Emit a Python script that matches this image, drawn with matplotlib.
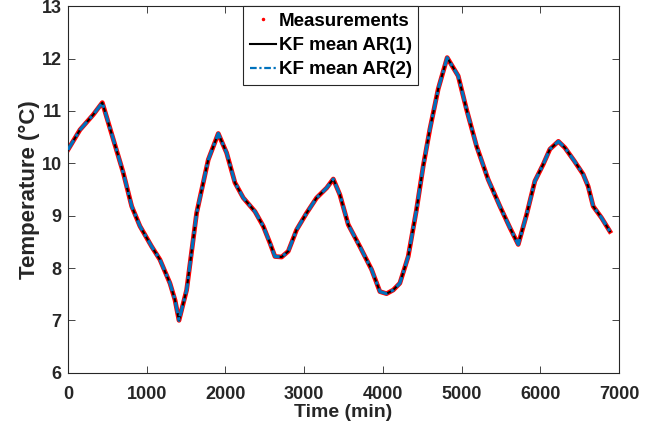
import matplotlib
matplotlib.use("Agg")
import matplotlib.pyplot as plt
from matplotlib.lines import Line2D

# Time (min) and temperature (°C)
time_min = [0, 152, 321, 436, 575, 702, 809, 914, 1063, 1168, 1295, 1359, 1410,
            1507, 1634, 1718, 1782, 1909, 2015, 2121, 2227, 2375, 2480, 2565,
            2629, 2714, 2798, 2904, 3031, 3158, 3286, 3370, 3454, 3560, 3708,
            3857, 3962, 4047, 4132, 4216, 4322, 4428, 4513, 4597, 4703, 4817,
            4957, 5063, 5190, 5338, 5487, 5614, 5720, 5826, 5931, 6037, 6122,
            6230, 6312, 6430, 6545, 6608, 6672, 6778, 6884]
temp_c = [10.26, 10.64, 10.93, 11.16, 10.46, 9.82, 9.18, 8.80, 8.41, 8.16, 7.71,
          7.39, 7.00, 7.58, 9.05, 9.63, 10.07, 10.57, 10.20, 9.63, 9.34, 9.08,
          8.80, 8.48, 8.22, 8.21, 8.32, 8.73, 9.05, 9.34, 9.53, 9.70, 9.40,
          8.83, 8.41, 7.97, 7.55, 7.51, 7.58, 7.71, 8.22, 9.12, 9.95, 10.65,
          11.42, 12.02, 11.67, 11.03, 10.33, 9.69, 9.18, 8.77, 8.45, 9.02,
          9.66, 9.98, 10.27, 10.42, 10.30, 10.05, 9.79, 9.56, 9.18, 8.96, 8.70]

kf_ar1 = temp_c
kf_ar2 = temp_c

x_ticks = [0, 1000, 2000, 3000, 4000, 5000, 6000, 7000]
y_ticks = [6, 7, 8, 9, 10, 11, 12, 13]

plt.rcParams['font.family'] = ['Liberation Sans', 'DejaVu Sans']
plt.rcParams['font.weight'] = 'bold'

TXT = '#262626'
fig = plt.figure(figsize=(6.67, 4.36), dpi=100)
ax = fig.add_axes([68 / 667, (436 - 372.7) / 436, 551 / 667, 366.4 / 436])

ax.plot(time_min, temp_c, color='#ff0000', lw=3.4, solid_joinstyle='round', zorder=2)
ax.plot(time_min, kf_ar1, color='black', lw=1.5, zorder=3)
ax.plot(time_min, kf_ar2, color='#0072BD', lw=2.3, ls=(0, (3.5, 1.3, 1, 1.3)), zorder=4)

handles = [Line2D([], [], color='red', marker='.', ls='none', markersize=3),
           Line2D([], [], color='black', lw=1.5),
           Line2D([], [], color='#0072BD', lw=1.6, ls=(0, (3, 1.2, 1, 1.2)))]
labels = ['Measurements', 'KF mean AR(1)', 'KF mean AR(2)']
leg = ax.legend(handles, labels, loc='upper center', bbox_to_anchor=(0.477, 1.0),
                fontsize=13.5, frameon=True, fancybox=False, framealpha=1,
                edgecolor=TXT, handlelength=1.4, handletextpad=0.15,
                labelspacing=0.38, borderpad=0.35, borderaxespad=0.0)
leg.get_frame().set_linewidth(0.8)
for t in leg.get_texts():
    t.set_fontweight('bold')
    t.set_color('black')

ax.set_xlim(0, 7000)
ax.set_ylim(6, 13)
ax.set_xticks(x_ticks)
ax.set_yticks(y_ticks)
ax.tick_params(direction='in', top=True, right=True, length=5, width=0.6,
               labelsize=13, colors=TXT)
ax.tick_params(axis='x', pad=9.3)
ax.tick_params(axis='y', pad=4.5)
for lab in ax.get_xticklabels() + ax.get_yticklabels():
    lab.set_fontweight('bold')
for s in ax.spines.values():
    s.set_linewidth(0.8)
    s.set_color(TXT)

ax.set_xlabel('Time (min)', fontsize=14, fontweight='bold', color=TXT)
ax.set_ylabel('Temperature (°C)', fontsize=16, fontweight='bold', color=TXT)
ax.xaxis.set_label_coords(0.5, -0.0865)
ax.yaxis.set_label_coords(-0.0515, 0.5)

fig.savefig('out.png', dpi=100)
